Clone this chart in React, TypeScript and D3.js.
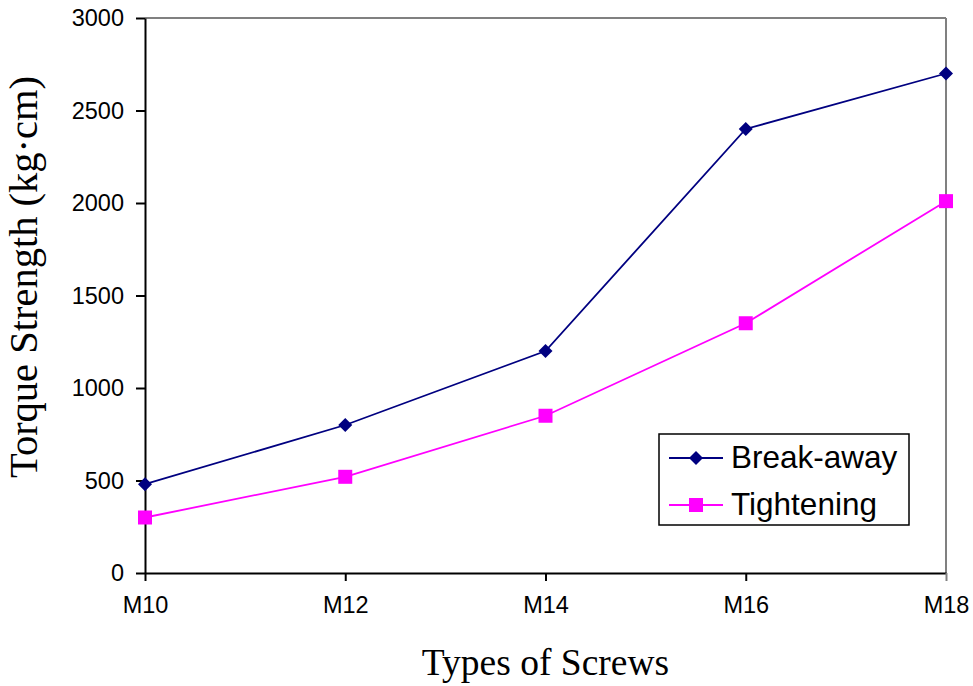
import React, { useEffect, useRef } from "react";
import * as d3 from "d3";

const screws = ["M10", "M12", "M14", "M16", "M18"];
const breakAway = [480, 800, 1200, 2400, 2700];
const tightening = [300, 520, 850, 1350, 2010];
const yTicks = [0, 500, 1000, 1500, 2000, 2500, 3000];

const WIDTH = 973;
const HEIGHT = 686;
const SANS = "'Liberation Sans', Arial, sans-serif";
const SERIF = "'Liberation Serif', 'Times New Roman', serif";

const NAVY = "#000080";
const MAGENTA = "#FF00FF";

const drawDiamond = (g, x, y, size) => {
  g.append("path")
    .attr("d", `M${x},${y - size} L${x + size},${y} L${x},${y + size} L${x - size},${y} Z`)
    .attr("fill", NAVY);
};

const drawSquare = (g, x, y, size) => {
  g.append("rect")
    .attr("x", x - size)
    .attr("y", y - size)
    .attr("width", size * 2)
    .attr("height", size * 2)
    .attr("fill", MAGENTA);
};

const App = () => {
  const svgRef = useRef(null);

  useEffect(() => {
    const svg = d3.select(svgRef.current);
    svg.selectAll("*").remove();

    const left = 145, right = 946, top = 18, bottom = 573;

    const x = d3.scalePoint().domain(screws).range([left, right]);
    const y = d3.scaleLinear().domain([0, 3000]).range([bottom, top]);

    // plot frame: grey top and right border
    svg.append("line")
      .attr("x1", left).attr("x2", right)
      .attr("y1", top).attr("y2", top)
      .attr("stroke", "#808080").attr("stroke-width", 2);
    svg.append("line")
      .attr("x1", right).attr("x2", right)
      .attr("y1", top).attr("y2", bottom)
      .attr("stroke", "#808080").attr("stroke-width", 2);

    // y axis
    const yAxis = d3.axisLeft(y).tickValues(yTicks).tickFormat(d3.format("d"))
      .tickSize(9).tickPadding(12).tickSizeOuter(0);
    const yg = svg.append("g").attr("transform", `translate(${left},0)`).call(yAxis);
    yg.select(".domain").attr("stroke", "#000").attr("stroke-width", 2);
    yg.selectAll(".tick line").attr("stroke", "#000").attr("stroke-width", 2);
    yg.selectAll(".tick text")
      .attr("font-family", SANS).attr("font-size", 23.5).attr("fill", "#000");

    // x axis
    const xAxis = d3.axisBottom(x).tickSize(8).tickPadding(15).tickSizeOuter(0);
    const xg = svg.append("g").attr("transform", `translate(0,${bottom})`).call(xAxis);
    xg.select(".domain").attr("stroke", "#000").attr("stroke-width", 2);
    xg.selectAll(".tick line").attr("stroke", "#000").attr("stroke-width", 2);
    xg.selectAll(".tick text")
      .attr("font-family", SANS).attr("font-size", 23.5).attr("fill", "#000");
    // last tick sits on the grey border
    xg.selectAll(".tick line").filter((d) => d === "M18").attr("stroke", "#808080");

    // series
    const line = d3.line().x((d, i) => x(screws[i])).y((d) => y(d));

    svg.append("path")
      .datum(tightening)
      .attr("d", line)
      .attr("fill", "none")
      .attr("stroke", MAGENTA)
      .attr("stroke-width", 1.8);
    tightening.forEach((v, i) => drawSquare(svg, x(screws[i]), y(v), 7));

    svg.append("path")
      .datum(breakAway)
      .attr("d", line)
      .attr("fill", "none")
      .attr("stroke", NAVY)
      .attr("stroke-width", 1.8);
    breakAway.forEach((v, i) => drawDiamond(svg, x(screws[i]), y(v), 7));

    // axis titles
    svg.append("text")
      .attr("x", (left + right) / 2)
      .attr("y", 675)
      .attr("text-anchor", "middle")
      .attr("font-family", SERIF)
      .attr("font-size", 37.5)
      .text("Types of Screws");

    svg.append("text")
      .attr("transform", `translate(37,277) rotate(-90)`)
      .attr("text-anchor", "middle")
      .attr("font-family", SERIF)
      .attr("font-size", 40.5)
      .text("Torque Strength (kg·cm)");

    // legend
    const legend = svg.append("g");
    legend.append("rect")
      .attr("x", 659).attr("y", 434)
      .attr("width", 250).attr("height", 91)
      .attr("fill", "#fff")
      .attr("stroke", "#000").attr("stroke-width", 1.5);

    const items = [
      { name: "Break-away", colour: NAVY, marker: drawDiamond, cy: 458 },
      { name: "Tightening", colour: MAGENTA, marker: drawSquare, cy: 505 },
    ];
    items.forEach((it) => {
      legend.append("line")
        .attr("x1", 669).attr("x2", 723)
        .attr("y1", it.cy).attr("y2", it.cy)
        .attr("stroke", it.colour).attr("stroke-width", 1.8);
      it.marker(legend, 696, it.cy, 7);
      legend.append("text")
        .attr("x", 731)
        .attr("y", it.cy + 10)
        .attr("font-family", SANS)
        .attr("font-size", 31.5)
        .text(it.name);
    });
  }, []);

  return (
    <svg
      ref={svgRef}
      width={WIDTH}
      height={HEIGHT}
      style={{ position: "absolute", left: 0, top: 0, background: "#fff" }}
    />
  );
};

export default App;
